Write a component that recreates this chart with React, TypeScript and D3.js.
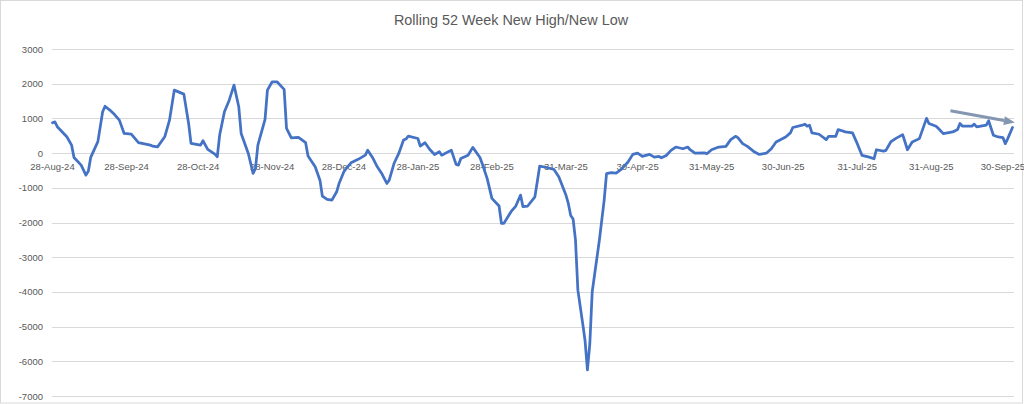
import React from "react";
import * as d3 from "d3";

const title = "Rolling 52 Week New High/New Low";

const dates: string[] = [
  "2024-08-28","2024-08-29","2024-08-30","2024-09-03","2024-09-05","2024-09-06","2024-09-09","2024-09-11","2024-09-12","2024-09-13",
  "2024-09-16","2024-09-18","2024-09-19","2024-09-21","2024-09-23","2024-09-25","2024-09-27","2024-09-30","2024-10-03","2024-10-08",
  "2024-10-09","2024-10-11","2024-10-14","2024-10-16","2024-10-18","2024-10-22","2024-10-24","2024-10-25","2024-10-29","2024-10-30",
  "2024-11-01","2024-11-04","2024-11-05","2024-11-06","2024-11-08","2024-11-10","2024-11-12","2024-11-14","2024-11-15","2024-11-18",
  "2024-11-20","2024-11-21","2024-11-22","2024-11-25","2024-11-26","2024-11-28","2024-11-30","2024-12-03","2024-12-04","2024-12-06",
  "2024-12-09","2024-12-12","2024-12-13","2024-12-16","2024-12-18","2024-12-19","2024-12-21","2024-12-23","2024-12-25","2024-12-26",
  "2024-12-28","2024-12-29","2024-12-31","2025-01-03","2025-01-06","2025-01-07","2025-01-09","2025-01-11","2025-01-13","2025-01-15",
  "2025-01-16","2025-01-18","2025-01-20","2025-01-22","2025-01-23","2025-01-24","2025-01-28","2025-01-29","2025-01-31","2025-02-02",
  "2025-02-04","2025-02-06","2025-02-07","2025-02-11","2025-02-13","2025-02-14","2025-02-15","2025-02-18","2025-02-20","2025-02-23",
  "2025-02-24","2025-02-26","2025-02-28","2025-03-03","2025-03-04","2025-03-05","2025-03-08","2025-03-10","2025-03-12","2025-03-13",
  "2025-03-15","2025-03-18","2025-03-19","2025-03-20","2025-03-23","2025-03-26","2025-03-28","2025-03-31","2025-04-01","2025-04-02",
  "2025-04-03","2025-04-04","2025-04-05","2025-04-07","2025-04-08","2025-04-09","2025-04-10","2025-04-11","2025-04-14","2025-04-16",
  "2025-04-17","2025-04-19","2025-04-21","2025-04-23","2025-04-26","2025-04-28","2025-04-30","2025-05-02","2025-05-05","2025-05-07",
  "2025-05-09","2025-05-10","2025-05-12","2025-05-14","2025-05-16","2025-05-19","2025-05-21","2025-05-22","2025-05-24","2025-05-28",
  "2025-05-29","2025-05-31","2025-06-03","2025-06-06","2025-06-08","2025-06-10","2025-06-11","2025-06-13","2025-06-15","2025-06-18",
  "2025-06-20","2025-06-23","2025-06-25","2025-06-27","2025-07-01","2025-07-03","2025-07-04","2025-07-08","2025-07-09","2025-07-10",
  "2025-07-11","2025-07-12","2025-07-15","2025-07-18","2025-07-19","2025-07-22","2025-07-23","2025-07-26","2025-07-29","2025-07-31",
  "2025-08-02","2025-08-05","2025-08-07","2025-08-08","2025-08-11","2025-08-12","2025-08-14","2025-08-16","2025-08-19","2025-08-20",
  "2025-08-21","2025-08-23","2025-08-26","2025-08-27","2025-08-29","2025-08-30","2025-09-02","2025-09-03","2025-09-05","2025-09-09",
  "2025-09-11","2025-09-12","2025-09-13","2025-09-17","2025-09-18","2025-09-19","2025-09-23","2025-09-24","2025-09-26","2025-09-28",
  "2025-09-30","2025-10-01","2025-10-02","2025-10-04",
];

const values: number[] = [
  875, 900, 760, 470, 230, -125, -345, -635, -520, -125,
  330, 1190, 1350, 1240, 1110, 950, 565, 550, 300, 230,
  200, 180, 470, 950, 1815, 1700, 855, 280, 230, 355,
  105, -30, -105, 520, 1190, 1525, 1960, 1335, 565, -10,
  -585, -440, 230, 970, 1815, 2055, 2055, 1835, 710, 440,
  450, 300, -85, -395, -780, -1240, -1335, -1355, -1115, -875,
  -540, -440, -280, -180, -60, 85, -125, -395, -605, -875,
  -780, -300, -10, 375, 405, 490, 420, 200, 300, 105,
  -40, 40, -60, 85, -325, -345, -155, -60, 165, -125,
  -315, -730, -1305, -1525, -2025, -2025, -1690, -1525, -1210, -1545,
  -1525, -1260, -825, -375, -415, -470, -680, -1210, -1450, -1800,
  -1900, -2500, -3950, -4900, -5400, -6250, -5500, -4000, -2510, -1360,
  -593, -565, -575, -478, -258, -37, 0, -95, -37, -116,
  -97, -136, -68, 78, 175, 126, 175, 97, 0, 10,
  -20, 97, 175, 194, 388, 485, 446, 272, 194, 29,
  -39, 0, 126, 320, 466, 582, 737, 805, 834, 776,
  805, 582, 543, 388, 485, 485, 679, 611, 582, 272,
  -68, -116, -165, 97, 58, 78, 320, 417, 533, 320,
  97, 320, 417, 611, 1000, 854, 776, 708, 562, 611,
  679, 854, 776, 776, 834, 757, 805, 931, 514, 466,
  446, 272, 417, 737,
];

const yTicks: number[] = [3000, 2000, 1000, 0, -1000, -2000, -3000, -4000, -5000, -6000, -7000];

const xTickDates: string[] = [
  "2024-08-28","2024-09-28","2024-10-28","2024-11-28","2024-12-28","2025-01-28","2025-02-28",
  "2025-03-31","2025-04-30","2025-05-31","2025-06-30","2025-07-31","2025-08-31","2025-09-30",
];

const axisStart = "2024-08-28";
const axisEnd = "2025-10-04";

// trend arrow annotation (in data terms)
const arrowFrom = { date: "2025-09-08", value: 1220 };
const arrowTo = { date: "2025-10-05", value: 880 };

const parse = d3.utcParse("%Y-%m-%d");
const fmt = d3.utcFormat("%d-%b-%y");

export default function App() {
  const W = 1024;
  const H = 404;
  const x = d3.scaleUtc().domain([parse(axisStart)!, parse(axisEnd)!]).range([52.5, 1012.5]);
  const y = d3.scaleLinear().domain([-7000, 3000]).range([396, 49]);

  const pts = dates.map((d, i) => ({ d: parse(d)!, v: values[i] }));
  const line = d3
    .line<{ d: Date; v: number }>()
    .x((p) => x(p.d))
    .y((p) => y(p.v));

  const font = "'Liberation Sans', Arial, sans-serif";
  const gridX0 = 52;
  const gridX1 = 1014;

  const ax0 = x(parse(arrowFrom.date)!);
  const ay0 = y(arrowFrom.value);
  const ax1 = x(parse(arrowTo.date)!);
  const ay1 = y(arrowTo.value);
  const ang = Math.atan2(ay1 - ay0, ax1 - ax0);
  const headLen = 11;
  const headHalf = 4.5;
  const bx = ax1 - headLen * Math.cos(ang);
  const by = ay1 - headLen * Math.sin(ang);
  const nx = -Math.sin(ang);
  const ny = Math.cos(ang);
  const head = `${ax1},${ay1} ${bx + nx * headHalf},${by + ny * headHalf} ${bx - nx * headHalf},${by - ny * headHalf}`;

  return (
    <svg
      width={W}
      height={H}
      style={{ position: "absolute", left: 0, top: 0, background: "#fff" }}
    >
      <rect x={0.5} y={0.5} width={W - 2} height={H - 1.5} fill="#fff" stroke="#d9d9d9" />
      <text
        x={511}
        y={20}
        textAnchor="middle"
        dominantBaseline="central"
        fontFamily={font}
        fontSize={14.4}
        fill="#595959"
      >
        {title}
      </text>
      {yTicks.map((t) => (
        <g key={t}>
          <line x1={gridX0} x2={gridX1} y1={Math.round(y(t)) + 0.5} y2={Math.round(y(t)) + 0.5} stroke="#d9d9d9" strokeWidth={1} />
          <text
            x={43}
            y={y(t)}
            textAnchor="end"
            dominantBaseline="central"
            fontFamily={font}
            fontSize={9.5}
            fill="#595959"
          >
            {t}
          </text>
        </g>
      ))}
      {xTickDates.map((d) => (
        <text
          key={d}
          x={x(parse(d)!)}
          y={166}
          textAnchor="middle"
          dominantBaseline="central"
          fontFamily={font}
          fontSize={9.5}
          fill="#595959"
        >
          {fmt(parse(d)!)}
        </text>
      ))}
      <path d={line(pts) || ""} fill="none" stroke="#4472C4" strokeWidth={2.75} strokeLinejoin="round" strokeLinecap="round" />
      <line x1={ax0} y1={ay0} x2={bx} y2={by} stroke="#8497B0" strokeWidth={3} />
      <polygon points={head} fill="#8497B0" />
    </svg>
  );
}
